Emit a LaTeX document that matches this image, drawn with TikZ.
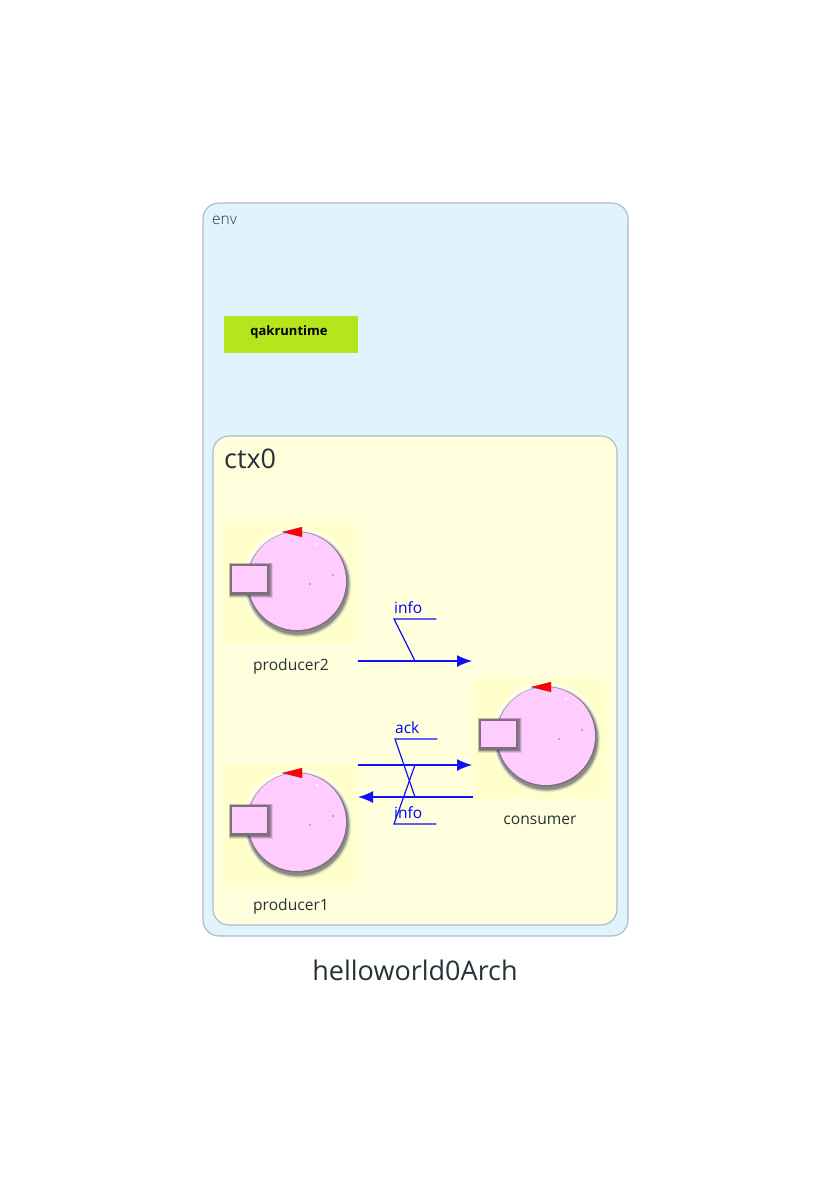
\documentclass[tikz,border=0pt]{standalone}
\usepackage{fontspec}
\setmainfont{Open Sans}
\newfontfamily\lightfont{Open Sans Light}
\usetikzlibrary{arrows.meta,calc}
\definecolor{envfill}{HTML}{E1F4FD}
\definecolor{ctxfill}{HTML}{FFFFDD}
\definecolor{iconbg}{HTML}{FFFFCC}
\definecolor{boxline}{HTML}{AEB9C6}
\definecolor{txt}{HTML}{263238}
\definecolor{pinkfill}{HTML}{FFCCFF}
\definecolor{rimgray}{HTML}{7D707D}
\definecolor{qakgreen}{HTML}{B5E61D}
\definecolor{msgblue}{HTML}{1010FF}
\tikzset{
 x=1pt,y=-1pt,
 envbox/.style={draw=boxline,line width=1.1pt,fill=envfill,rounded corners=16pt},
 ctxbox/.style={draw=boxline,line width=1.1pt,fill=ctxfill,rounded corners=16pt},
 iconbox/.style={fill=iconbg,draw=none,minimum width=134pt,minimum height=121pt,inner sep=0pt,anchor=north west},
 actorlabel/.style={text=txt,font=\fontsize{15.6}{18}\selectfont,inner sep=0pt},
 msg/.style={color=msgblue,line width=1.4pt,-{Latex[length=15pt,width=12pt]}},
 leader/.style={color=msgblue,line width=1.2pt},
 msglabel/.style={text=blue,font=\fontsize{15.5}{17}\selectfont,inner sep=0pt,anchor=south west,text width=42pt,align=left,text height=11pt,text depth=5pt},
}
% #1 name, #2 x, #3 y of the icon's top-left corner
\newcommand{\actoricon}[3]{%
 \begin{scope}[shift={(#2,#3)}]
  \node[iconbox] (#1) at (0,0) {};
  \fill[white,opacity=.7] (73,59) circle (54);
  \foreach \g/\o in {5/.05,4/.07,3/.10,2/.14,1/.18}{
   \fill[black,opacity=\o] (74,61) circle (50+\g*.7);
  }
  \fill[rimgray] (73.3,58.6) circle (50);
  \fill[pinkfill] (73,58) circle (49);
  \foreach \g/\o in {3/.10,2/.15,1/.22}{
   \fill[black,opacity=\o] (6-\g*.4,41-\g*.4) rectangle (45.5+\g,72+\g);
  }
  \fill[rimgray] (6,41) rectangle (45,71.5);
  \fill[pinkfill] (8,43) rectangle (43,69);
  \fill[rimgray] (57,9) -- (78,4) -- (78,14) -- cycle;
  \fill[red] (59,9) -- (78,4) -- (78,14) -- cycle;
  \fill[white] (93,21) circle (1.3);
  \fill[gray] (86,61) circle (.9);
  \fill[gray] (109,52) circle (.9);
 \end{scope}}
\begin{document}
\begin{tikzpicture}
\useasboundingbox (0,0) rectangle (831,1184);
\fill[white] (0,0) rectangle (831,1184);
\draw[envbox] (203,203) rectangle (628,936);
\node[text=txt,font=\lightfont\fontsize{15.5}{17}\selectfont,inner sep=0pt,anchor=west] (envlabel) at (212,220) {env};
\node[fill=qakgreen,minimum width=134pt,minimum height=37pt,inner sep=0pt,anchor=north west] (qak) at (224,316) {};
\node[font=\fontsize{13}{15}\selectfont\bfseries,text=black,inner sep=0pt] (qaklabel) at (289,332) {qakruntime};
\draw[ctxbox] (213,436) rectangle (617,925);
\node[text=txt,font=\fontsize{27}{30}\selectfont,inner sep=0pt,anchor=west] (ctxlabel) at (224,459) {ctx0};
\actoricon{p2}{224}{523}
\actoricon{p1}{224}{764}
\actoricon{cons}{473}{678}
\node[actorlabel] (p2label) at (291,666) {producer2};
\node[actorlabel] (p1label) at (291,906) {producer1};
\node[actorlabel] (conslabel) at (540,820) {consumer};
\coordinate (a1s) at (358,661); \coordinate (a1e) at (472,661); \coordinate (a1m) at (415,661);
\coordinate (a2s) at (358,765); \coordinate (a2e) at (472,765); \coordinate (a2m) at (415,765);
\coordinate (a3s) at (473,797); \coordinate (a3e) at (358,797); \coordinate (a3m) at (415,797);
\draw[msg] (a1s) -- (a1e);
\draw[msg] (a2s) -- (a2e);
\draw[msg] (a3s) -- (a3e);
\node[msglabel] (info1) at (394,619) {info};
\node[msglabel] (ack) at (395,739) {ack};
\node[msglabel] (info2) at (394,824) {info};
\draw[leader] (info1.south east) -- (info1.south west) -- (a1m);
\draw[leader] (ack.south east) -- (ack.south west) -- (a3m);
\draw[leader] (info2.south east) -- (info2.south west) -- (a2m);
\node[text=txt,font=\fontsize{27}{30}\selectfont,inner sep=0pt] (title) at (415,970) {helloworld0Arch};
\end{tikzpicture}
\end{document}
